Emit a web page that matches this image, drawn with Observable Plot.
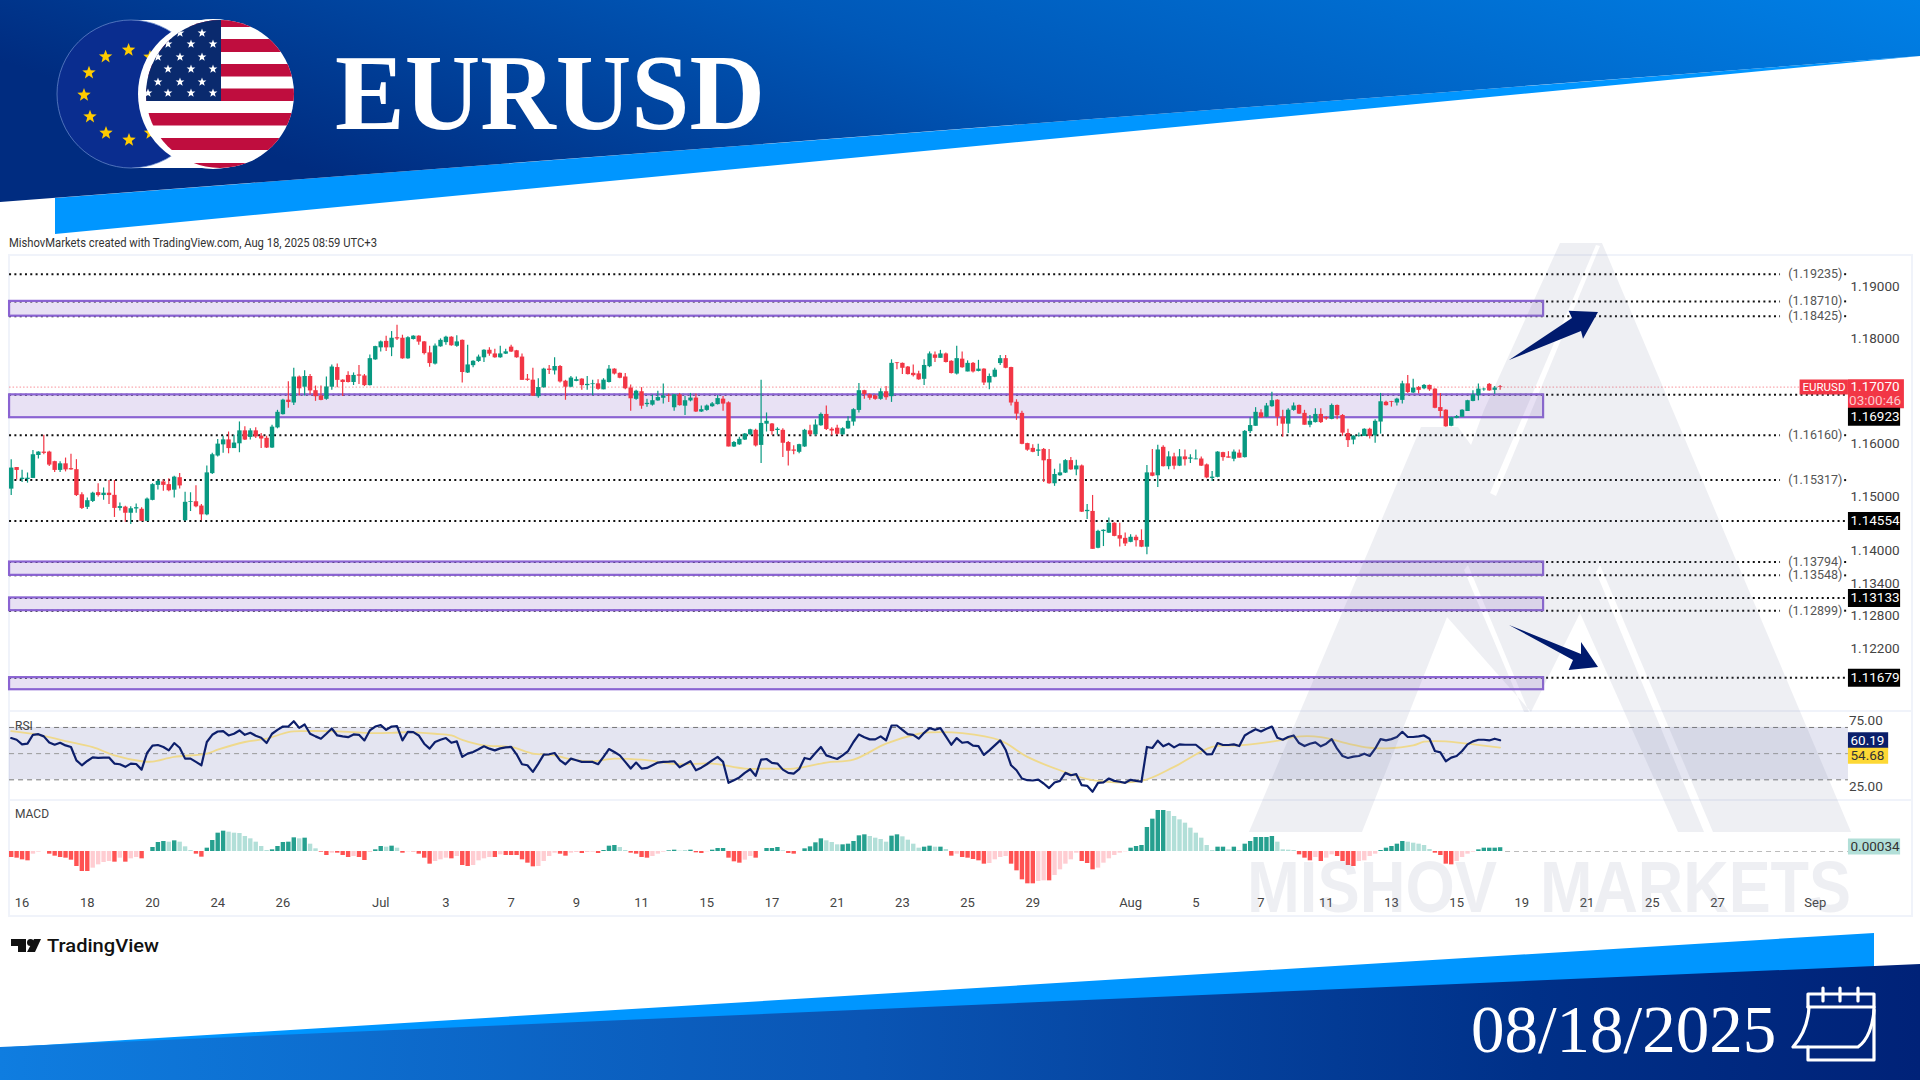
<!DOCTYPE html>
<html><head><meta charset="utf-8">
<script src="https://cdn.jsdelivr.net/npm/d3@7"></script>
<script src="https://cdn.jsdelivr.net/npm/@observablehq/plot@0.6"></script>
<style>
html,body{margin:0;padding:0;background:#fff;overflow:hidden}
#page{position:relative;width:1920px;height:1080px;overflow:hidden;background:#fff}
#page>svg,#page>div{position:absolute;left:0}
</style></head><body>
<div id="page">
<svg id="bg" width="1920" height="1080" style="top:0">
<defs>
<linearGradient id="gt" x1="0" y1="0.3" x2="1" y2="0"><stop offset="0" stop-color="#002c80"/><stop offset="0.45" stop-color="#0058b8"/><stop offset="1" stop-color="#0080e6"/></linearGradient>
<linearGradient id="gb" x1="0" y1="0" x2="1" y2="0"><stop offset="0" stop-color="#0f7de0"/><stop offset="0.45" stop-color="#0a55b4"/><stop offset="0.8" stop-color="#003088"/><stop offset="1" stop-color="#002278"/></linearGradient>
<clipPath id="usclip"><circle cx="220" cy="94" r="74"/></clipPath>
</defs>
<polygon points="55,198 1920,56 1920,56 55,234" fill="#0096ff"/>
<polygon points="0,0 1920,0 1920,56 0,202" fill="url(#gt)"/>
<polygon points="11,1047 1874,933 1874,975 11,1080" fill="#0096ff"/>
<polygon points="0,1047 1920,964 1920,1080 0,1080" fill="url(#gb)"/>
<g id="flag"></g>
<text x="335" y="129" font-family="Liberation Serif" font-weight="700" font-size="109" fill="#fff" textLength="430" lengthAdjust="spacingAndGlyphs">EURUSD</text>
<text x="1471" y="1052" font-family="Liberation Serif" font-size="67" fill="#fff">08/18/2025</text>
<g fill="none" stroke="#fff" stroke-width="3.2" stroke-linejoin="round" stroke-linecap="round">
<path d="M1808 1007V994H1874V1060H1808V1047"/>
<path d="M1808 1007H1874"/>
<path d="M1809 1007C1808 1025 1802 1037 1793 1047H1858C1868 1040 1873 1025 1874 1010"/>
<path d="M1823 988V1001M1840 988V1001M1858 988V1001"/>
</g>
<text x="9" y="247" font-family="Liberation Sans Narrow, Roboto" font-size="12" fill="#333" textLength="368" lengthAdjust="spacingAndGlyphs">MishovMarkets created with TradingView.com, Aug 18, 2025 08:59 UTC+3</text>
<g fill="#111"><path d="M11 939H26V952H18V946H11Z"/><circle cx="30.500" cy="942.500" r="3.500"/><path d="M34 939H41L35 952H27Z"/></g>
<text x="47" y="952" font-family="Roboto, Inter" font-weight="500" font-size="19" fill="#111" textLength="112" lengthAdjust="spacingAndGlyphs">TradingView</text>
<g fill="none" stroke="#f0f3fa" stroke-width="2"><rect x="9" y="255" width="1903" height="661"/><path d="M9 711H1912M9 800H1912"/></g>
</svg>
<div id="price" style="top:255px"></div>
<div id="rsi" style="top:711px"></div>
<div id="macd" style="top:800px"></div>
<svg id="over" width="1920" height="1080" style="top:0;pointer-events:none">
<path fill-rule="evenodd" fill="rgba(125,135,165,.13)" d="M1560 243H1602L1851 832H1678L1580 613L1531 712L1447 617L1362 832H1249L1421 427H1458L1471 445L1484 410ZM1596 245L1490 493L1496 496L1600 246ZM1600 565L1713 832H1704L1596 572ZM1468 565L1529 712H1524L1464 570Z"/>
<text x="1247" y="912" font-family="Liberation Sans" font-weight="700" font-size="72" fill="rgba(125,135,165,.13)" textLength="250" lengthAdjust="spacingAndGlyphs">MISHOV</text>
<text x="1540" y="912" font-family="Liberation Sans" font-weight="700" font-size="72" fill="rgba(125,135,165,.13)" textLength="311" lengthAdjust="spacingAndGlyphs">MARKETS</text>
<polygon points="1509,360 1572,318 1568.600,310.700 1598,312 1583,338.700 1581,331" fill="#001a6e"/>
<polygon points="1509,625 1581,654 1581,642 1598,667 1568.600,670 1573,660" fill="#001a6e"/>
</svg>
</div>
<script>
// ---------- data: pips above 1.10000, one value per 4-hour bar ----------
const pipBase = 1.1;
const opens = [515,555,533,533,535,578,584,584,566,550,562,553,551,504,481,492,508,503,507,503,479,481,470,478,477,455,494,522,528,523,513,536,456,490,491,483,467,544,577,598,607,591,600,624,612,624,614,610,592,630,655,682,677,726,707,727,700,690,684,707,744,720,729,716,730,728,710,759,782,794,782,801,800,761,798,804,793,772,751,784,792,802,785,796,734,748,756,763,777,770,763,770,783,776,764,722,720,689,706,741,738,746,718,707,718,722,710,712,713,702,716,741,733,726,705,684,698,674,673,681,686,691,668,692,671,681,686,660,663,670,674,684,677,594,598,607,617,625,597,637,637,625,625,602,588,584,594,624,617,634,655,627,629,617,628,641,663,700,692,690,684,698,689,753,752,745,733,732,722,746,768,762,770,756,732,760,736,752,737,741,715,726,752,761,744,678,657,600,591,586,589,570,525,540,545,568,551,558,473,473,405,436,433,451,428,423,416,425,419,407,545,540,593,557,575,558,575,571,570,571,560,535,537,583,575,571,582,574,623,633,658,650,670,682,650,637,663,672,657,635,640,655,649,646,672,653,619,607,614,614,627,615,641,678,679,677,682,713,696,706,704,710,703,668,663,633,648,650,661,680,691,702,712,701,708];
const highs = [570,555,550,545,587,585,616,586,567,566,573,580,570,508,498,509,525,517,531,531,489,483,482,487,480,498,525,532,532,534,539,544,509,508,521,486,558,582,608,614,622,616,641,632,628,630,619,614,635,663,684,717,743,728,738,731,709,709,726,749,751,721,736,734,748,731,768,785,795,804,813,825,806,803,805,805,794,785,789,799,804,803,805,797,787,757,768,778,782,779,785,779,787,777,770,731,743,723,743,748,763,748,720,727,726,723,727,720,721,723,748,742,734,733,711,701,706,684,692,699,713,694,693,695,689,695,694,671,673,678,691,689,679,604,612,619,627,627,720,658,638,630,628,604,596,599,627,635,645,658,671,630,635,630,651,666,714,701,694,692,704,708,759,754,753,746,749,737,759,774,774,777,772,757,785,774,757,754,758,742,732,743,767,767,745,683,661,601,598,599,591,589,552,562,570,574,569,560,486,503,438,439,461,452,451,433,430,429,439,559,589,597,596,585,582,589,588,579,588,575,562,548,585,584,585,588,588,625,649,668,664,676,697,683,663,666,677,673,663,653,666,666,651,675,673,655,627,615,620,628,629,645,695,680,680,686,718,729,722,708,712,711,704,695,664,650,653,664,682,700,713,705,714,708,710];
const lows = [503,532,527,526,535,571,579,557,546,546,547,550,501,477,477,490,500,494,486,462,474,453,449,470,455,455,493,513,511,510,498,515,455,473,480,456,465,542,575,582,581,591,583,606,607,610,591,591,591,628,654,667,672,690,690,692,680,681,682,701,706,689,715,710,712,708,709,758,774,775,765,796,760,760,797,787,768,745,749,783,787,785,783,715,733,744,754,754,766,762,762,769,773,762,720,718,689,686,705,731,730,715,682,706,717,701,701,691,701,702,715,730,723,702,661,682,665,669,671,680,675,678,661,671,653,679,659,659,661,669,673,661,594,593,597,606,615,594,563,622,616,616,574,558,579,581,593,614,614,633,625,615,616,616,627,633,658,684,682,682,682,682,678,740,731,730,726,720,710,744,754,762,753,732,730,743,736,734,736,710,702,725,748,742,671,644,598,586,583,576,527,524,520,539,544,550,540,471,458,403,404,408,432,426,407,408,415,407,406,393,538,518,556,551,551,557,558,563,570,557,534,529,536,567,573,566,573,573,619,633,648,649,669,633,612,619,661,655,635,630,639,638,644,645,645,614,593,598,612,614,609,601,618,671,669,671,675,695,695,694,702,699,666,649,631,632,647,650,661,679,681,699,699,693,701];
const closes = [554,550,535,535,579,584,582,560,550,562,551,551,503,479,493,507,503,507,503,479,482,470,478,480,455,496,523,529,522,512,537,521,490,491,482,467,545,579,599,607,591,601,624,607,624,613,609,592,631,659,682,678,726,704,727,700,689,682,707,745,720,716,716,729,728,710,761,784,793,782,800,799,761,801,804,793,771,752,785,796,802,786,793,735,749,756,764,777,770,763,770,774,774,763,720,720,690,706,741,739,746,717,707,724,721,710,712,713,703,720,741,732,724,704,685,699,671,676,681,687,690,690,692,672,681,686,660,664,671,675,685,675,594,602,608,618,626,596,638,642,623,627,601,586,586,598,625,617,635,655,627,624,618,628,642,664,700,693,686,684,698,687,752,752,743,731,729,721,748,770,762,770,754,733,761,744,752,736,741,715,727,739,761,743,677,656,599,588,584,588,568,525,542,545,568,551,558,472,475,403,436,438,451,427,422,413,425,419,407,545,539,588,557,575,558,575,570,573,571,558,536,537,584,574,573,584,573,623,634,659,649,671,681,650,637,663,671,656,635,642,655,640,647,672,653,620,606,614,615,627,614,642,679,672,678,684,713,697,705,701,710,702,667,661,632,649,651,663,681,692,703,703,700,705,707];
const rsiValues = [61.9,60.6,57.1,57.6,64.4,64.9,63.2,58.6,56.8,58.3,56.3,55.1,44.9,41.1,44.4,47.2,46.7,47,47,42.4,41.9,39.9,42.4,42.1,37.8,50.5,56.1,56.6,55.1,52.5,58.1,54.5,46.2,46.2,43.7,41.1,58.9,64.4,66.9,67.2,63.9,65.2,67.7,64.4,65.9,63.7,62.1,58.1,65.2,68.2,70.7,70.7,74.8,69.7,72.3,65.2,63.2,61.4,65.2,69.2,63.9,63.2,62.6,64.7,64.4,60.1,67.7,70.7,71.8,68.2,70.7,71,60.1,66.7,66.4,63.9,57.6,53.8,58.9,60.6,61.9,58.3,59.4,47.5,50,51.3,53.3,55.6,53.8,52.5,54,54.8,55.1,49.5,41.9,41.1,36.1,42.4,49.2,49.5,50.5,44.9,41.9,46.2,44.9,43.7,43.7,43.7,41.9,47.5,53.5,51.3,48.7,43.7,38.6,43.2,38.6,39.1,41.1,43.2,43.7,43.9,44.2,39.6,41.9,44.2,37.3,39.3,41.9,44.9,47.5,43.7,27.7,29.7,31.8,35.3,38.1,33,45.4,45.9,42.9,42.4,37.8,35.3,34.8,38.1,46.7,45.7,50.5,55.1,48.7,47.2,45.9,48.7,52,58.9,64.7,62.6,60.9,60.9,63.2,60.1,71.5,71.5,68.2,64.9,64.4,61.4,65.9,69.5,68.2,69.5,63.2,56.8,61.9,58.3,58.9,56.1,55.8,49,52.5,56.3,60.1,53,41.1,37.3,31,29.7,29.5,30.2,27.2,23.7,28,29.2,35.3,33.5,34.3,25.9,25.4,20.9,27.7,28,31,29.2,28.5,27.7,30,29.2,28.5,55.1,54.3,59.9,55.6,57.6,54.8,57.1,56.8,56.8,56.8,53.5,49.5,49.7,58.1,56.6,56.6,57.1,55.8,63.9,66.4,68.7,67,69,70.7,62.1,60.6,62.7,63.9,58.1,55.8,57.6,58.6,55.6,57.6,61.1,53.8,48.2,46.7,47.7,48.2,50,48.2,53.8,61.1,60.1,61.1,62.7,66.7,62.7,62.7,63.2,63.9,61.4,52,51,44.2,47,48.2,52,57.1,59.4,60.6,60.6,60.1,61.4,60.19];
const rsiMaBars = [0,5,10,15,19,24,26,30,36,38,43,47,51,54,58,62,66,70,73,78,81,83,87,92,96,100,103,107,111,116,123,129,135,140,144,150,155,161,167,169,175,182,187,193,199,208,214,221,226,234,236,241,246,250,253,258,260,264,268,274];
const rsiMaValues = [67.2,64.4,59.6,55,48.7,44.2,43.9,47.5,50,53,58.9,61.4,66.4,67.2,67.2,66.7,65.7,65.9,66.4,65.2,63.9,60.6,56.3,55.1,50,48.7,45.7,44.2,46.2,45.4,41.9,42.4,38.6,38.6,38.6,43.2,45.4,57.6,65.2,66.2,65.7,60.1,47.5,37.3,29.7,29.2,39.9,55.1,56.3,60.6,62.7,62.7,57.6,54.5,54,56.3,59.1,59.4,57.6,54.68];
// MACD histogram in units of 0.00001
const macdHist = [-54,-60,-75,-84,-24,-6,0,-24,-42,-54,-60,-78,-135,-180,-180,-150,-120,-99,-90,-96,-60,-96,-66,-54,-66,0,36,81,90,84,96,84,42,9,-24,-51,30,99,165,183,174,165,162,135,114,84,45,9,15,45,81,84,123,114,120,66,24,-6,-36,-15,-15,-36,-54,-45,-54,-81,-9,15,45,39,48,30,-15,-3,-3,-24,-60,-114,-90,-75,-60,-66,-45,-126,-135,-126,-84,-66,-54,-54,-30,-36,-36,-36,-75,-105,-138,-135,-90,-45,-15,-24,-42,-15,-9,-18,-9,-6,-18,9,48,54,36,9,-15,-24,-54,-60,-45,-24,-6,6,12,3,3,12,-12,-18,-3,12,27,27,-60,-93,-105,-78,-45,-60,0,27,27,36,6,-18,-24,0,24,42,78,114,96,81,60,60,66,90,141,150,135,120,108,84,138,150,132,102,66,30,39,48,39,39,18,-42,-24,-54,-60,-72,-84,-114,-108,-75,-54,-45,-114,-174,-255,-291,-291,-270,-264,-264,-216,-165,-114,-75,-15,-90,-108,-165,-150,-105,-66,-36,-15,-3,30,45,54,216,291,369,369,360,315,285,255,210,165,120,54,9,39,39,15,39,9,66,90,126,126,126,135,84,15,12,9,-30,-60,-84,-54,-90,-60,-30,-45,-90,-126,-135,-90,-84,-45,-24,9,30,45,66,90,84,75,66,54,18,-15,-36,-114,-120,-90,-54,-24,-6,15,30,30,30,34];
const dayBars = [2,14,26,38,50,68,80,92,104,116,128,140,152,164,176,188,206,218,230,242,254,266,278,290,302,314,332];
const dayLabels = ["16","18","20","24","26","Jul","3","7","9","11","15","17","21","23","25","29","Aug","5","7","11","13","15","19","21","25","27","Sep"];
const zoneTops = [1.1871,1.16923,1.13794,1.13133,1.11679];
const zoneBottoms = [1.18425,1.1649,1.13548,1.12899,1.1146];
const labelledLevels = [1.19235,1.1871,1.18425,1.1616,1.15317,1.13794,1.13548,1.12899];
const taggedLevels = [1.16923,1.14554,1.13133,1.11679];
const priceTicks = [1.19,1.18,1.16,1.15,1.14,1.134,1.128,1.122];
const rsiTicks = [75,25];
const lastPrice = 1.1707;

// ---------- shared ----------
const bars = opens.map((o,i)=>({i,o:pipBase+o/1e4,h:pipBase+highs[i]/1e4,l:pipBase+lows[i]/1e4,c:pipBase+closes[i]/1e4}));
const xScale = {domain:[-1.97,351.36],axis:null};
const narrow = "Liberation Sans Narrow, Roboto, sans-serif";
const base = {width:1920,marginLeft:0,marginRight:0,marginTop:0,x:xScale,style:{background:"transparent",overflow:"visible",fontFamily:narrow}};
const UP="#089981", DOWN="#f23645", DOT="#111", AXIS="#444";
const plotLeft=-0.3, zoneEnd=282, lineEnd=325.6, stubStart=337.4, tagL=338.1, tagR=347.7, tagMid=343;
const fix5 = d=>d.toFixed(5);
const dots = {stroke:DOT,strokeWidth:2,strokeDasharray:"2 3.3"};

// ---------- price pane ----------
const zones = zoneTops.map((t,k)=>({t,b:zoneBottoms[k]}));
const priceTags = [{p:1.1651,t:"1.16923"},{p:1.14554,t:"1.14554"},{p:1.13133,t:"1.13133"},{p:1.11679,t:"1.11679"}];
document.getElementById("price").append(Plot.plot({...base,height:456,marginBottom:0,
  y:{type:"log",domain:[1.11067,1.19597],axis:null},
  marks:[
    Plot.ruleY(labelledLevels,{x1:()=>plotLeft,x2:()=>lineEnd,...dots}),
    Plot.ruleY(labelledLevels,{x1:()=>stubStart,x2:()=>tagL,...dots}),
    Plot.ruleY(taggedLevels,{x1:()=>plotLeft,x2:()=>tagL,...dots}),
    Plot.rect(zones,{x1:()=>plotLeft,x2:()=>zoneEnd,y1:"b",y2:"t",fill:"#7e57c2",fillOpacity:0.18,stroke:"#8a63d2",strokeWidth:2.2}),
    Plot.ruleY([lastPrice],{x1:()=>plotLeft,x2:()=>tagL,stroke:"#f23645",strokeOpacity:.55,strokeWidth:1,strokeDasharray:"1.5 2"}),
    Plot.ruleX(bars,{x:"i",y1:"l",y2:"h",stroke:d=>d.c>=d.o?UP:DOWN,strokeWidth:1.2}),
    Plot.ruleX(bars,{x:"i",y1:d=>Math.max(d.o,d.c)+0.00002,y2:d=>Math.min(d.o,d.c)-0.00002,stroke:d=>d.c>=d.o?UP:DOWN,strokeWidth:4.4}),
    Plot.text(labelledLevels,{x:()=>332,y:d=>d,text:d=>`(${fix5(d)})`,fill:"#555",fontSize:12.5,fontFamily:narrow}),
    Plot.text(priceTicks,{x:()=>tagMid,y:d=>d,text:fix5,fill:AXIS,fontSize:13.5,fontFamily:narrow}),
    // tags
    Plot.ruleY([1.16943],{x1:()=>tagL,x2:()=>348.4,stroke:"#f23645",strokeWidth:29}),
    Plot.ruleY([lastPrice],{x1:()=>329.2,x2:()=>tagL,stroke:"#f23645",strokeWidth:15}),
    Plot.ruleY(priceTags,{y:"p",x1:()=>tagL,x2:()=>tagR,stroke:"#000",strokeWidth:18}),
    Plot.text(priceTags,{x:()=>tagMid,y:"p",text:"t",fill:"#fff",fontSize:13.5,fontFamily:narrow}),
    Plot.text(["EURUSD"],{x:()=>333.6,y:()=>lastPrice,text:d=>d,fill:"#fff",fontSize:11.5,fontFamily:narrow}),
    Plot.text(["1.17070"],{x:()=>tagMid,y:()=>lastPrice,text:d=>d,fill:"#fff",fontSize:13.5,fontFamily:narrow}),
    Plot.text(["03:00:46"],{x:()=>tagMid,y:()=>1.1682,text:d=>d,fill:"#fbc8cc",fontSize:13.5,fontFamily:narrow})
  ]}));

// ---------- RSI pane ----------
const rsi = rsiValues.map((v,i)=>({i,v}));
const rsiMa = rsiMaBars.map((i,k)=>({i,v:rsiMaValues[k]}));
document.getElementById("rsi").append(Plot.plot({...base,height:89,marginBottom:0,
  y:{domain:[14.2,82.2],axis:null},
  marks:[
    Plot.rect([{a:30,b:70}],{x1:()=>plotLeft,x2:()=>tagL,y1:"a",y2:"b",fill:"#3f4a9c",fillOpacity:0.14}),
    Plot.ruleY([70,30],{x1:()=>plotLeft,x2:()=>tagL,stroke:"#777",strokeWidth:1,strokeDasharray:"5 4"}),
    Plot.ruleY([50],{x1:()=>plotLeft,x2:()=>tagL,stroke:"#999",strokeWidth:1,strokeDasharray:"5 4"}),
    Plot.line(rsiMa,{x:"i",y:"v",stroke:"#efd98c",strokeWidth:1.8,curve:"catmull-rom"}),
    Plot.line(rsi,{x:"i",y:"v",stroke:"#0d1f6b",strokeWidth:2.2,strokeLinejoin:"round"}),
    Plot.text(["RSI"],{x:()=>0.7,y:()=>71,text:d=>d,textAnchor:"start",fill:"#444",fontSize:12,fontFamily:narrow}),
    Plot.text(rsiTicks,{x:()=>341.3,y:d=>d,text:d=>d.toFixed(2),fill:AXIS,fontSize:13.5,fontFamily:narrow}),
    Plot.ruleY([60.19],{x1:()=>tagL,x2:()=>345.5,stroke:"#0b1f6b",strokeWidth:16}),
    Plot.ruleY([48.3],{x1:()=>tagL,x2:()=>345.5,stroke:"#fdd835",strokeWidth:16}),
    Plot.text(["60.19"],{x:()=>341.6,y:()=>60.19,text:d=>d,fill:"#fff",fontSize:13.5,fontFamily:narrow}),
    Plot.text(["54.68"],{x:()=>341.6,y:()=>48.3,text:d=>d,fill:"#333",fontSize:13.5,fontFamily:narrow})
  ]}));

// ---------- MACD pane ----------
const hist = macdHist.map((v,i)=>{
  const prev = i?macdHist[i-1]:v;
  const fill = v>=0 ? (v>=prev?"#26a08f":"#b2dfd8") : (v<=prev?"#ff5252":"#ffcdd2");
  return {i,v,fill};
});
document.getElementById("macd").append(Plot.plot({...base,height:116,marginBottom:24,
  y:{domain:[-369,459],axis:null},
  marks:[
    Plot.ruleY([0],{x1:()=>275,x2:()=>tagL,stroke:"#bbb",strokeWidth:1,strokeDasharray:"5 4"}),
    Plot.ruleX(hist,{x:"i",y1:()=>0,y2:"v",stroke:"fill",strokeWidth:4.4}),
    Plot.axisX(dayBars,{anchor:"bottom",tickSize:0,tickPadding:5,tickFormat:(d)=>dayLabels[dayBars.indexOf(d)],fontSize:13,fontFamily:narrow,fill:AXIS,label:null}),
    Plot.text(["MACD"],{x:()=>0.7,y:()=>335,text:d=>d,textAnchor:"start",fill:"#444",fontSize:12,fontFamily:narrow}),
    Plot.ruleY([45],{x1:()=>tagL,x2:()=>tagR,stroke:"#b2dfd8",strokeWidth:16}),
    Plot.text(["0.00034"],{x:()=>tagMid,y:()=>45,text:d=>d,fill:"#333",fontSize:13.5,fontFamily:narrow})
  ]}));

// ---------- decorative flag badge ----------
const star=(cx,cy,r)=>{let s="";for(let k=0;k<10;k++){const a=-Math.PI/2+k*Math.PI/5,q=k%2?r*0.42:r;s+=(k?"L":"M")+(cx+q*Math.cos(a)).toFixed(1)+" "+(cy+q*Math.sin(a)).toFixed(1)}return s+"Z"};
const eu=[[128.6,50],[105.6,56.7],[89,72.7],[84,95],[90,116.7],[106,133],[129,140],[150.5,133],[150,57]];
const redBands=[[20,27],[39,52],[64,76.5],[88.5,101],[113,125.5],[138,150],[163,175]];
const usRows=[[33,[180,202]],[44,[168,191,213]],[57,[158,180,202]],[69,[168,191,213]],[82,[158,180,202]],[93,[148,168,191,213]]];
let f=`<rect x="131" y="20" width="89" height="148" fill="#fff"/><circle cx="131" cy="94" r="74" fill="#0a2d8f" stroke="#6f8fd0" stroke-width=".7"/>`;
f+=eu.map(([x,y])=>`<path d="${star(x,y,7)}" fill="#ffcc00"/>`).join("");
f+=`<circle cx="213" cy="94" r="75" fill="#fff"/><g clip-path="url(#usclip)"><rect x="146" y="20" width="148" height="148" fill="#fff"/>`;
f+=redBands.map(([a,b])=>`<rect x="146" y="${a}" width="148" height="${b-a}" fill="#bf0d3e"/>`).join("");
f+=`<rect x="146" y="20" width="75" height="81" fill="#0a2a6e"/>`;
f+=usRows.flatMap(([y,xs])=>xs.map(x=>`<path d="${star(x,y,4.6)}" fill="#fff"/>`)).join("");
f+=`</g>`;
document.getElementById("flag").innerHTML=f;
</script>
</body></html>
